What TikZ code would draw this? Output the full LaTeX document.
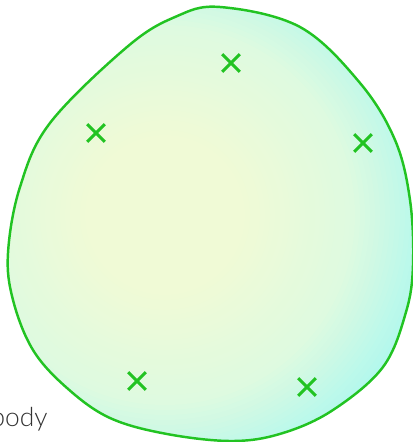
\documentclass[tikz,border=0pt]{standalone}
\usepackage{fontspec}
\setmainfont{Lato}
\newfontfamily\thinfont{Lato Light}
\usetikzlibrary{shapes.misc}
\definecolor{bodyline}{RGB}{34,195,34}
\definecolor{bodyinner}{RGB}{240,250,214}
\definecolor{bodymid}{RGB}{222,250,224}
\definecolor{bodyouter}{RGB}{176,248,238}
\definecolor{labelgray}{RGB}{51,51,51}
\begin{document}
\begin{tikzpicture}[
    x=0.02cm, y=-0.02cm,
    outline/.style={draw=bodyline, line width=1.4pt},
    xmark/.style={cross out, draw=bodyline, line width=1.8pt, minimum size=0.29cm, inner sep=0pt},
    tag/.style={font=\thinfont\fontsize{15}{18}\selectfont, text=labelgray}
]
\useasboundingbox (0,0) rectangle (412,442);
\def\bodypath{plot[smooth cycle, tension=0.6] coordinates {
    (220,7) (300,27) (360,83) (395,140) (410,200) (413,265) (406,312)
    (383,367) (333,410) (283,433) (233,441) (167,434) (110,418) (67,388)
    (33,350) (13,300) (8,253) (20,187) (50,123) (127,47) (175,17)}}
% soft glow: rings from the edge inwards
\begin{scope}
  \clip \bodypath;
  \foreach \r in {340,335,...,5} {
    \pgfmathsetmacro\pa{max(0,min(100,(\r-190)/80*100))}
    \pgfmathsetmacro\pb{max(0,min(100,(\r-80)/110*100))}
    \colorlet{ringa}{bodymid!\pb!bodyinner}
    \colorlet{ring}{bodyouter!\pa!ringa}
    \fill[ring] (165,215) circle (\r);
  }
\end{scope}
\draw[outline] \bodypath;

\node[xmark] (p1) at (231,63) {};
\node[xmark] (p2) at (96,133) {};
\node[xmark] (p3) at (363,143) {};
\node[xmark] (p4) at (137,381) {};
\node[xmark] (p5) at (307,387) {};

\node[tag, anchor=base east, inner sep=0pt] (body) at (48,426) {body};
\end{tikzpicture}
\end{document}
